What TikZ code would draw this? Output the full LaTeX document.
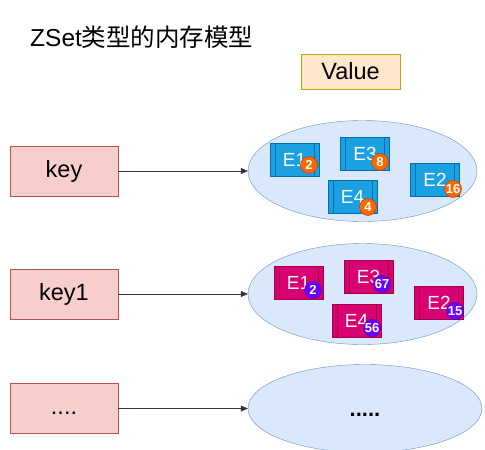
\documentclass[tikz,border=0pt]{standalone}
\usepackage{fontspec}
\setmainfont{Liberation Sans}
\newfontfamily\cjk{Noto Sans CJK SC}
\usepackage{tikz}
\usetikzlibrary{shapes.geometric,arrows.meta}
\definecolor{keyfill}{HTML}{F8CECC}
\definecolor{keyline}{HTML}{B85450}
\definecolor{valfill}{HTML}{DAE8FC}
\definecolor{valline}{HTML}{6C8EBF}
\definecolor{hdfill}{HTML}{FFE6CC}
\definecolor{hdline}{HTML}{D79B00}
\definecolor{bluefill}{HTML}{1BA1E2}
\definecolor{blueline}{HTML}{006EAF}
\definecolor{redfill}{HTML}{D80073}
\definecolor{redline}{HTML}{A50040}
\definecolor{orgfill}{HTML}{FA6800}
\definecolor{orgline}{HTML}{C73500}
\definecolor{purfill}{HTML}{6A00FF}
\definecolor{purline}{HTML}{3700CC}
\tikzset{
  keybox/.style={draw=keyline,fill=keyfill,minimum width=108pt,minimum height=50pt,text height=17pt,text depth=5pt,font=\fontsize{23.5}{24}\selectfont},
  valset/.style={ellipse,draw=valline,fill=valfill,inner sep=0pt},
  elem/.style={draw=#1line,fill=#1fill,minimum width=49pt,minimum height=33pt,inner sep=0pt,text=white,font=\fontsize{19}{19}\selectfont,
    path picture={\draw[#1line] ([xshift=5pt]path picture bounding box.north west) -- ([xshift=5pt]path picture bounding box.south west)
      ([xshift=-5pt]path picture bounding box.north east) -- ([xshift=-5pt]path picture bounding box.south east);}},
  score/.style={circle,draw=#1line,fill=#1fill,minimum size=17pt,inner sep=0pt,text=white,font=\fontsize{13}{13}\selectfont\bfseries},
  link/.style={draw=black!80,-{Triangle[length=7pt,width=6pt]}}
}

\begin{document}
\begin{tikzpicture}[x=1pt,y=-1pt]
\useasboundingbox (0,0) rectangle (485,450);
\node[anchor=west,inner sep=0pt,font=\fontsize{24.5}{25}\selectfont] (title) at (30,37) {ZSet{\cjk 类型的内存模型}};
\node[draw=hdline,fill=hdfill,minimum width=99pt,minimum height=35pt,font=\fontsize{23.5}{24}\selectfont] (value) at (350.5,71.5) {Value};
\node[keybox] (key) at (64,171) {key};
\node[keybox] (key1) at (64,294) {key1};
\node[keybox] (keyn) at (64,408.5) {....};
\node[valset,minimum width=229pt,minimum height=101pt] (set) at (362.5,171) {};
\node[valset,minimum width=229pt,minimum height=101pt] (set1) at (362.5,294) {};
\node[valset,minimum width=234pt,minimum height=88pt,text height=16pt,text depth=0pt,font=\fontsize{22}{22}\selectfont\bfseries] (setn) at (365,408.5) {.....};
\draw[link] (key) -- (set);
\draw[link] (key1) -- (set1);
\draw[link] (keyn) -- (setn);
\foreach \n/\t/\x/\y/\bx/\by/\s in {a1/E1/294.5/159.5/309/165/2, a3/E3/365/153.5/380/162/8, a2/E2/435/179.5/453/189/16, a4/E4/352.5/197/368/207/4}{
  \node[elem=blue] (\n) at (\x,\y) {\t};
  \node[score=org] (s\n) at (\bx,\by) {\s};
}
\foreach \n/\t/\x/\y/\bx/\by/\s in {b1/E1/298.5/282.5/313/290/2, b3/E3/368.5/276.5/382/284/67, b2/E2/439/302.5/455/311/15, b4/E4/356.5/320.5/372/328/56}{
  \node[elem=red] (\n) at (\x,\y) {\t};
  \node[score=pur] (s\n) at (\bx,\by) {\s};
}
\end{tikzpicture}
\end{document}
